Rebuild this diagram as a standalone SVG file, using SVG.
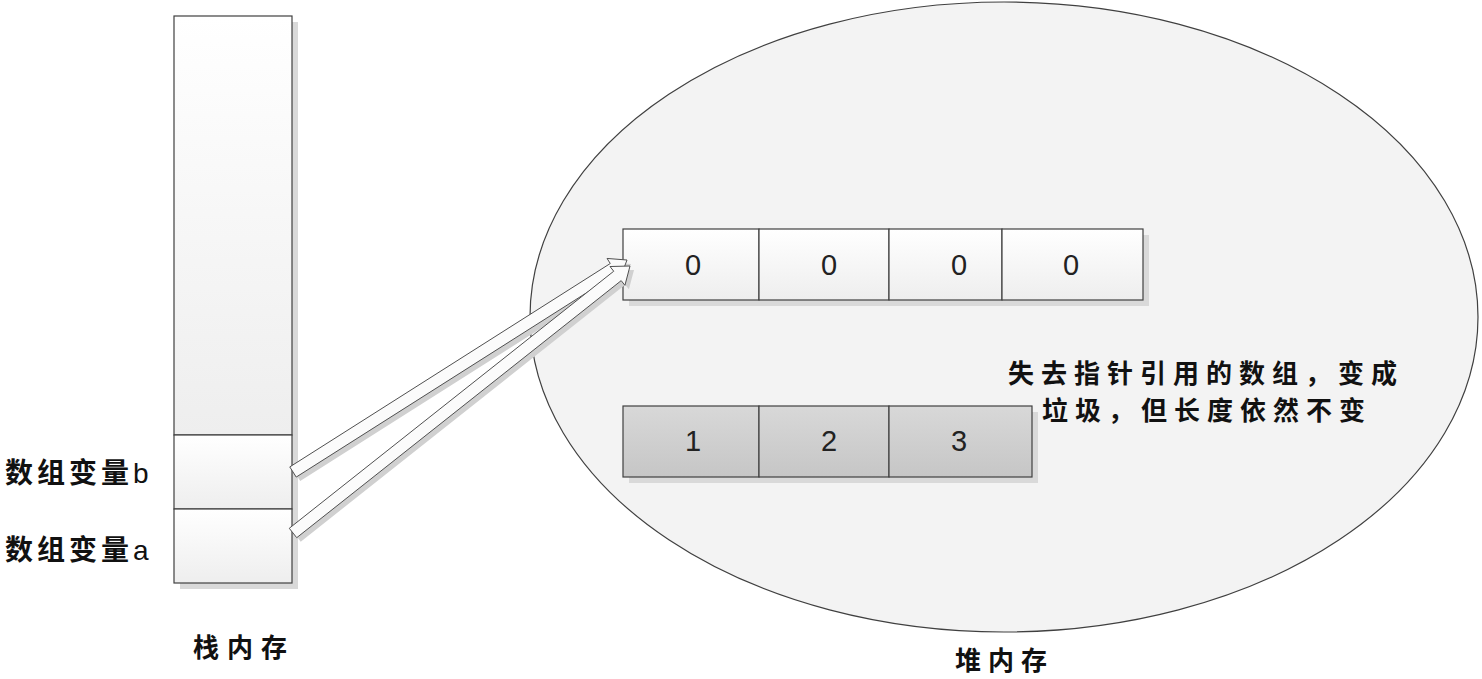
<svg xmlns="http://www.w3.org/2000/svg" width="1482" height="679" viewBox="0 0 1482 679">
<defs>
<linearGradient id="gw" x1="0" y1="0" x2="0" y2="1"><stop offset="0" stop-color="#ffffff"/><stop offset="1" stop-color="#eeeeee"/></linearGradient>
<linearGradient id="gg" x1="0" y1="0" x2="0" y2="1"><stop offset="0" stop-color="#d8d8d8"/><stop offset="1" stop-color="#c6c6c6"/></linearGradient>
<style>
.box{stroke:#404040;stroke-width:1.2;fill:url(#gw)}
.gbox{stroke:#404040;stroke-width:1.2;fill:url(#gg)}
.sh{fill:#d9d9d9}
.num{font-family:"Liberation Sans","Open Sans",sans-serif;font-size:29px;fill:#222;text-anchor:middle}
.cjk{font-family:"Noto Sans CJK SC","Noto Sans CJK JP",sans-serif;font-weight:bold;fill:#111}
.arr{fill:#fbfbfb;stroke:#505050;stroke-width:1}
.arrsh{fill:#d0d0d0}
</style>
</defs>
<rect width="1482" height="679" fill="#ffffff"/>
<g id="heap">
<ellipse cx="1004" cy="317" rx="474" ry="315" fill="#f3f3f3" stroke="#404040" stroke-width="1.2"/>
<text class="cjk" x="955" y="670" font-size="26" letter-spacing="7">堆内存</text>
</g>
<g id="stack">
<rect class="sh" x="180" y="22" width="118" height="567"/>
<rect class="box" x="174" y="16" width="118" height="419"/>
<rect class="sh" x="180" y="441" width="118" height="74"/>
<rect class="box" x="174" y="435" width="118" height="74"/>
<rect class="box" x="174" y="509" width="118" height="74"/>
<text class="cjk" x="193" y="657" font-size="26" letter-spacing="8">栈内存</text>
</g>
<g id="var-b"><text class="cjk" x="5" y="483" font-size="28" letter-spacing="4">数组变量<tspan font-family="Liberation Sans,sans-serif" font-weight="normal">b</tspan></text></g>
<g id="var-a"><text class="cjk" x="5" y="560" font-size="28" letter-spacing="4">数组变量<tspan font-family="Liberation Sans,sans-serif" font-weight="normal">a</tspan></text></g>
<g id="array-new">
<rect class="sh" x="629" y="235" width="520" height="71"/>
<rect class="box" x="623" y="229" width="136" height="71"/>
<rect class="box" x="759" y="229" width="130" height="71"/>
<rect class="box" x="889" y="229" width="113" height="71"/>
<rect class="box" x="1002" y="229" width="141" height="71"/>
<text class="num" x="693" y="275">0</text>
<text class="num" x="829" y="275">0</text>
<text class="num" x="959" y="275">0</text>
<text class="num" x="1071" y="275">0</text>
</g>
<g id="array-old">
<rect class="sh" x="629" y="412" width="409" height="71"/>
<rect class="gbox" x="623" y="406" width="136" height="71"/>
<rect class="gbox" x="759" y="406" width="130" height="71"/>
<rect class="gbox" x="889" y="406" width="143" height="71"/>
<text class="num" x="693" y="451">1</text>
<text class="num" x="829" y="451">2</text>
<text class="num" x="959" y="451">3</text>
</g>
<g id="note">
<text class="cjk" x="1008" y="383" font-size="26" letter-spacing="7">失去指针引用的数组，变成</text>
<text class="cjk" x="1042" y="420" font-size="26" letter-spacing="7">垃圾，但长度依然不变</text>
</g>
<g id="connectors">
<g transform="translate(4,4)">
<polygon class="arrsh" points="289.78,466.93 610.27,263.50 607.06,258.44 627,260 619.92,278.70 616.71,273.64 296.22,477.07"/>
<polygon class="arrsh" points="289.27,528.30 613.73,271.24 610.01,266.53 630,266 624.91,285.35 621.19,280.64 296.73,537.70"/>
</g>
<polygon class="arr" points="289.78,466.93 610.27,263.50 607.06,258.44 627,260 619.92,278.70 616.71,273.64 296.22,477.07"/>
<polygon class="arr" points="289.27,528.30 613.73,271.24 610.01,266.53 630,266 624.91,285.35 621.19,280.64 296.73,537.70"/>
</g>
</svg>
